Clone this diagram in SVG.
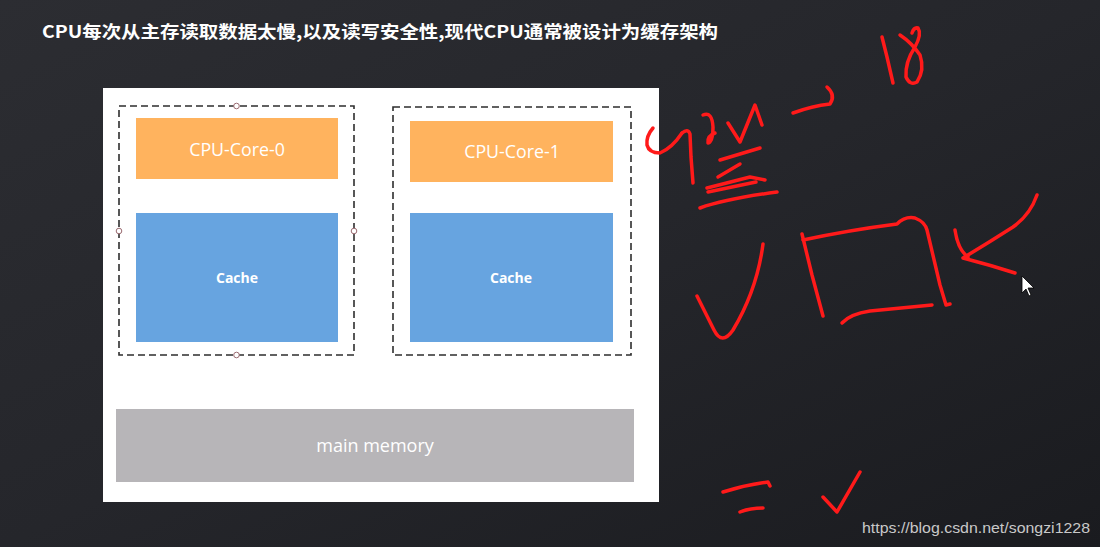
<svg xmlns="http://www.w3.org/2000/svg" width="1100" height="547" viewBox="0 0 1100 547">
<defs>
<linearGradient id="bg" x1="0" y1="0" x2="1" y2="1">
<stop offset="0" stop-color="#2c2d32"/>
<stop offset="0.5" stop-color="#25262b"/>
<stop offset="1" stop-color="#1a1b1f"/>
</linearGradient>
<style>
.dash{fill:none;stroke:#2e2e2e;stroke-width:1.6;stroke-dasharray:7 4}
.core{fill:#ffb35e}
.cache{fill:#67a4e0}
.mem{fill:#b7b5b8}
.lbl{font-family:"Open Sans","Noto Sans","Liberation Sans",sans-serif;fill:#ffffff;text-anchor:middle}
.handle{fill:#ffffff;stroke:#9a6a70;stroke-width:1}
.ink{fill:none;stroke:#ff1a1a;stroke-width:3.5;stroke-linecap:round;stroke-linejoin:round}
</style>
</defs>
<rect x="0" y="0" width="1100" height="547" fill="url(#bg)"/>
<text x="42" y="38" font-family="'Noto Sans CJK SC','Liberation Serif',serif" font-weight="700" font-size="17.5" fill="#ffffff" textLength="676" lengthAdjust="spacingAndGlyphs">CPU每次从主存读取数据太慢,以及读写安全性,现代CPU通常被设计为缓存架构</text>
<rect x="103" y="88" width="556" height="414" fill="#ffffff"/>
<g id="group0">
<rect class="dash" x="119" y="106" width="235" height="249"/>
<circle class="handle" cx="236.5" cy="106" r="2.8"/>
<circle class="handle" cx="119" cy="231" r="2.8"/>
<circle class="handle" cx="354" cy="231" r="2.8"/>
<circle class="handle" cx="236.5" cy="355" r="2.8"/>
</g>
<g id="group1">
<rect class="dash" x="393" y="107" width="238" height="248"/>
</g>
<g id="core0"><rect class="core" x="136" y="118" width="202" height="61"/><text class="lbl" x="237" y="156" font-size="17.8">CPU-Core-0</text></g>
<g id="cache0"><rect class="cache" x="136" y="213" width="202" height="129"/><text class="lbl" x="237" y="283" font-size="14" font-weight="700">Cache</text></g>
<g id="core1"><rect class="core" x="410" y="121" width="203" height="61"/><text class="lbl" x="512" y="158" font-size="17.8">CPU-Core-1</text></g>
<g id="cache1"><rect class="cache" x="410" y="213" width="203" height="129"/><text class="lbl" x="511" y="283" font-size="14" font-weight="700">Cache</text></g>
<g id="memory"><rect class="mem" x="116" y="409" width="518" height="73"/><text class="lbl" x="375" y="452" font-size="18">main memory</text></g>
<g id="connectors"></g>
<g id="ink">
<path class="ink" d="M653,128 Q646,136 647,145 Q649,153 660,153 Q672,148 682,133"/>
<path class="ink" d="M682,133 Q688,128 690,134 L691,157 L693,183"/>
<path class="ink" d="M703,115 Q712,111 713,127 Q713,142 708,143 Q707,136 715,133"/>
<path class="ink" d="M728,123 L740,142 L755,105 L762,125"/>
<path class="ink" d="M720,160 L760,148"/>
<path class="ink" d="M718,177 L740,164"/>
<path class="ink" d="M707,188 L750,177 L765,180"/>
<path class="ink" d="M708,192 L756,182"/>
<path class="ink" d="M700,208 Q725,199 777,192"/>
<path class="ink" d="M793,113 Q812,106 830,104 Q836,95 827,87"/>
<path class="ink" d="M882,37 L887,57 L893,83"/>
<path class="ink" d="M900,35 Q912,43 920,55 Q925,70 917,82 Q910,86 906,77 Q905,62 915,47 Q922,34 918,28 Q914,27 912,33"/>
<path class="ink" d="M763,244 Q757,290 733,330 Q722,346 714,330 L697,296"/>
<path class="ink" d="M802,234 L812,275 L823,316"/>
<path class="ink" d="M803,240 Q850,230 897,224 Q905,216 915,218 Q925,222 927,230 L940,285 L946,305 L950,304"/>
<path class="ink" d="M842,323 Q850,314 870,311 L932,305"/>
<path class="ink" d="M1037,195 Q1030,215 1013,227 Q988,243 963,258 Q990,265 1015,273"/>
<path class="ink" d="M955,230 Q958,250 968,257"/>
<path class="ink" d="M723,492 Q745,485 768,482 L770,486"/>
<path class="ink" d="M740,512 Q750,508 763,508"/>
<path class="ink" d="M823,497 L837,512 L860,472"/>
</g>
<path d="M1022,276 L1022,293 L1026,289 L1029,296 L1031,295 L1028,288 L1034,288 Z" fill="#ffffff" stroke="#000000" stroke-width="0.8"/>
<text x="862" y="533" font-family="'Liberation Sans',Arial,sans-serif" font-size="14.5" fill="#c9c9c9" textLength="228" lengthAdjust="spacingAndGlyphs">https://blog.csdn.net/songzi1228</text>
</svg>
